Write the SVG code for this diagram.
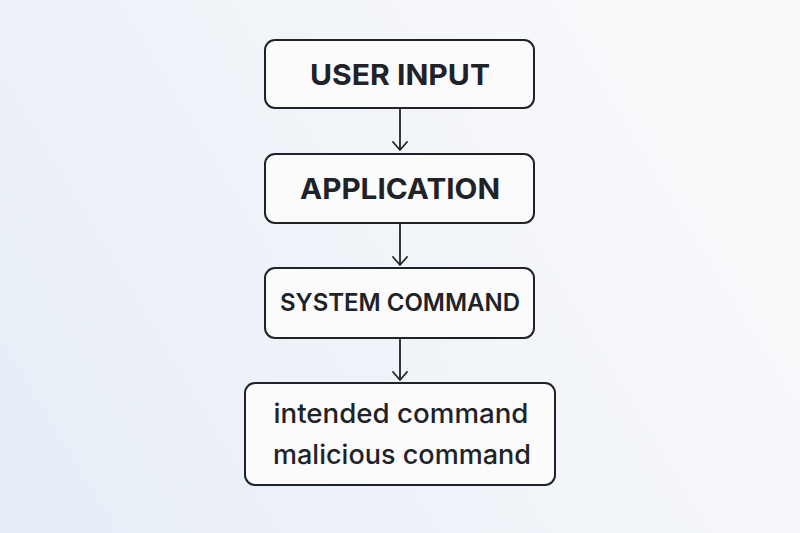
<svg xmlns="http://www.w3.org/2000/svg" width="800" height="533" viewBox="0 0 800 533">
<defs>
<linearGradient id="bg" x1="0" y1="0.7" x2="1" y2="0.3">
<stop offset="0" stop-color="#e8eef7"/>
<stop offset="1" stop-color="#fafafb"/>
</linearGradient>
<marker id="arr" viewBox="0 0 10 16" refX="9" refY="8" markerWidth="10" markerHeight="16" markerUnits="userSpaceOnUse" orient="auto">
<path d="M1 1 L9 8 L1 15" fill="none" stroke="#1f2328" stroke-width="1.8" stroke-linecap="round" stroke-linejoin="round"/>
</marker>
<style>
.box{fill:#fbfbfc;stroke:#1f2328;stroke-width:2}
.t{font-family:Inter,"Noto Sans","DejaVu Sans",sans-serif;fill:#1f2328;text-anchor:middle}
.caps{font-weight:700}
.semi{font-weight:600}
.low{font-weight:500;font-size:27px}
.con{stroke:#1f2328;stroke-width:1.8;fill:none}
</style>
</defs>
<rect width="800" height="533" fill="url(#bg)"/>
<g id="connectors">
<line class="con" x1="400" y1="108" x2="400" y2="150" marker-end="url(#arr)"/>
<line class="con" x1="400" y1="223" x2="400" y2="265" marker-end="url(#arr)"/>
<line class="con" x1="400" y1="338" x2="400" y2="380" marker-end="url(#arr)"/>
</g>
<g id="user-input">
<rect class="box" x="265" y="40" width="269" height="68" rx="10"/>
<text class="t caps" x="400" y="85" font-size="29" textLength="180" lengthAdjust="spacingAndGlyphs">USER INPUT</text>
</g>
<g id="application">
<rect class="box" x="265" y="154" width="269" height="69" rx="10"/>
<text class="t caps" x="400" y="199" font-size="29" textLength="200" lengthAdjust="spacingAndGlyphs">APPLICATION</text>
</g>
<g id="system-command">
<rect class="box" x="265" y="268" width="269" height="70" rx="10"/>
<text class="t semi" x="400" y="311" font-size="24" textLength="240" lengthAdjust="spacingAndGlyphs">SYSTEM COMMAND</text>
</g>
<g id="commands">
<rect class="box" x="245" y="383" width="310" height="102" rx="10"/>
<text class="t low" x="401" y="423" textLength="255" lengthAdjust="spacingAndGlyphs">intended command</text>
<text class="t low" x="402" y="464" textLength="258" lengthAdjust="spacingAndGlyphs">malicious command</text>
</g>
</svg>
